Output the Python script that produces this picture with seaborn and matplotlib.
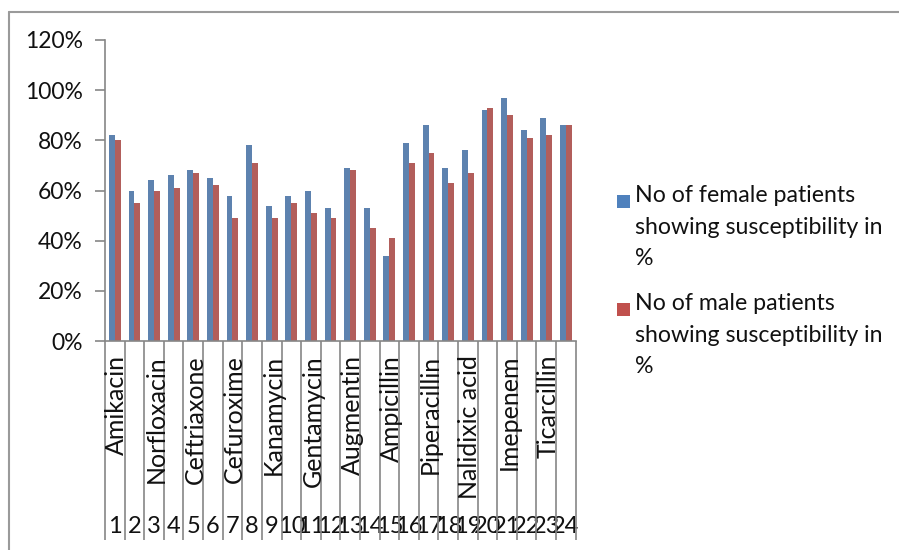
import matplotlib
matplotlib.use("Agg")
import matplotlib.pyplot as plt
from matplotlib.lines import Line2D
from matplotlib.patches import Rectangle
from matplotlib.ticker import PercentFormatter
from matplotlib.transforms import blended_transform_factory
import pandas as pd
import seaborn as sns

# Susceptibility (%) per antibiotic row, female vs male patients
row_numbers = [str(i) for i in range(1, 25)]
female_pct = [82, 60, 64, 66, 68, 65, 58, 78, 54, 58, 60, 53,
              69, 53, 34, 79, 86, 69, 76, 92, 97, 84, 89, 86]
male_pct = [80, 55, 60, 61, 67, 62, 49, 71, 49, 55, 51, 49,
            68, 45, 41, 71, 75, 63, 67, 93, 90, 81, 82, 86]
drug_names = ["Amikacin", "Norfloxacin", "Ceftriaxone", "Cefuroxime",
              "Kanamycin", "Gentamycin", "Augmentin", "Ampicillin",
              "Piperacillin", "Nalidixic acid", "Imepenem", "Ticarcillin"]
series_labels = ["No of female patients\nshowing susceptibility in\n%",
                 "No of male patients\nshowing susceptibility in\n%"]
series_colors = ["#4F81BD", "#C0504D"]
y_ticks = [0, 20, 40, 60, 80, 100, 120]

df = pd.DataFrame({
    "row": row_numbers * 2,
    "series": [series_labels[0]] * 24 + [series_labels[1]] * 24,
    "pct": female_pct + male_pct,
})

sns.set_theme(style="white")
plt.rcParams["font.family"] = ["Lato", "DejaVu Sans"]

W, H = 899, 550
fig = plt.figure(figsize=(W / 100, H / 100), dpi=100)
ax_left, ax_right, ax_top, ax_bottom = 105, 575.7, 40, 341
ax = fig.add_axes([ax_left / W, 1 - ax_bottom / H,
                   (ax_right - ax_left) / W, (ax_bottom - ax_top) / H])

sns.barplot(data=df, x="row", y="pct", hue="series", order=row_numbers,
            hue_order=series_labels, palette=series_colors, width=0.6,
            gap=0, linewidth=0, legend=False, ax=ax)

axis_grey = "#868686"
text_col = "#111111"
ax.set_xlim(-0.5, 23.5)
ax.set_ylim(0, 120)
ax.set_yticks(y_ticks)
ax.yaxis.set_major_formatter(PercentFormatter(xmax=100, decimals=0))
ax.set_xlabel("")
ax.set_ylabel("")
for side in ("top", "right"):
    ax.spines[side].set_visible(False)
for side in ("left", "bottom"):
    ax.spines[side].set_color(axis_grey)
    ax.spines[side].set_linewidth(1.2)

ax.tick_params(axis="y", which="major", direction="out", length=7,
               width=1.2, color=axis_grey, pad=9, labelsize=16.5,
               labelcolor=text_col, left=True)

# category row numbers along the bottom, long divider ticks between rows
ax.set_xticks(range(24))
ax.set_xticklabels(row_numbers)
ax.tick_params(axis="x", which="major", length=0, pad=126,
               labelsize=17, labelcolor=text_col)
ax.set_xticks([i - 0.5 for i in range(25)], minor=True)
ax.tick_params(axis="x", which="minor", direction="out", length=143,
               width=1.2, color=axis_grey, bottom=True)

# antibiotic names, one per pair of rows, written vertically
trans = blended_transform_factory(ax.transData, ax.transAxes)
name_top = -(355 - ax_bottom) / (ax_bottom - ax_top)
for k, name in enumerate(drug_names):
    ax.text(2 * k + 0.1, name_top, name, transform=trans, rotation=90,
            ha="center", va="top", fontsize=18, color=text_col)

# legend on the right
for i, (lab, col) in enumerate(zip(series_labels, series_colors)):
    top = [195, 303][i]
    fig.patches.append(Rectangle((617 / W, 1 - (top + 13) / H), 13 / W, 13 / H,
                                 transform=fig.transFigure, facecolor=col,
                                 edgecolor="none"))
    fig.text(635 / W, 1 - (top - 10) / H, lab, ha="left", va="top",
             fontsize=16.7, linespacing=1.62, color=text_col)

# chart frame
frame_grey = "#9a9a9a"
fig.add_artist(Line2D([9 / W, 9 / W], [0, 1 - 12 / H],
                      transform=fig.transFigure, color=frame_grey, lw=1.5))
fig.add_artist(Line2D([9 / W, 1], [1 - 12 / H, 1 - 12 / H],
                      transform=fig.transFigure, color=frame_grey, lw=1.5))

fig.savefig("out.png", dpi=100, facecolor="white")
